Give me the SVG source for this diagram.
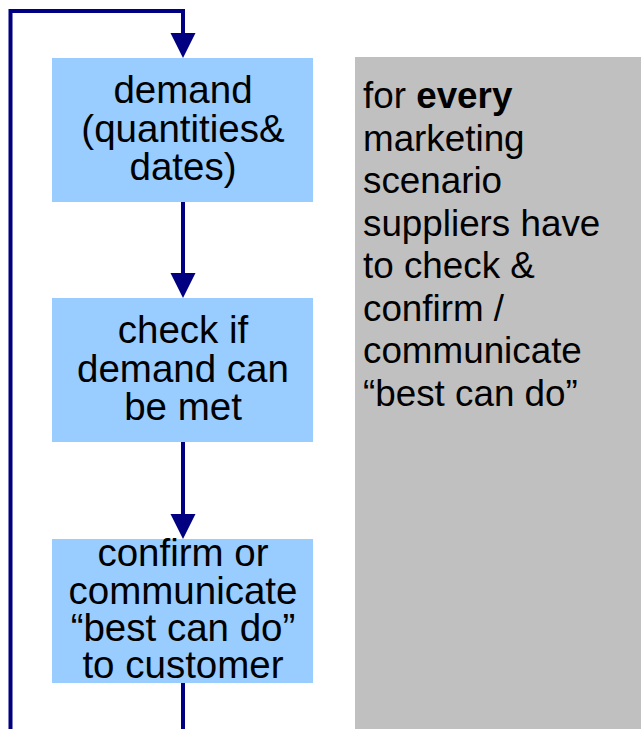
<svg xmlns="http://www.w3.org/2000/svg" width="641" height="729" viewBox="0 0 641 729">
<style>
.box{fill:#99ccff}
.bt{font-family:"Liberation Sans",Arial,sans-serif;font-size:38.5px;fill:#000;text-anchor:middle}
.gt{font-family:"Liberation Sans",Arial,sans-serif;font-size:36.8px;fill:#000}
.ln{stroke:#000080;stroke-width:4;fill:none}
.ah{fill:#000080}
</style>
<rect width="641" height="729" fill="#fff"/>
<g id="note">
<rect x="355" y="57" width="286" height="672" fill="#c0c0c0"/>
<text class="gt" x="363" y="108">for <tspan font-weight="bold">every</tspan></text>
<text class="gt" x="363" y="150.5">marketing</text>
<text class="gt" x="363" y="193">scenario</text>
<text class="gt" x="363" y="235.5">suppliers have</text>
<text class="gt" x="363" y="278">to check &amp;</text>
<text class="gt" x="363" y="320.5">confirm /</text>
<text class="gt" x="363" y="363">communicate</text>
<text class="gt" x="363" y="405.5">“best can do”</text>
</g>
<g id="connectors">
<polyline class="ln" points="183,683 183,729"/>
<polyline class="ln" points="10.5,729 10.5,11 183,11 183,35"/>
<polygon class="ah" points="170.5,33 195.5,33 183,58"/>
<line class="ln" x1="183" y1="202" x2="183" y2="275"/>
<polygon class="ah" points="170.5,273 195.5,273 183,298"/>
<line class="ln" x1="183" y1="442" x2="183" y2="516"/>
<polygon class="ah" points="170.5,514 195.5,514 183,539"/>
</g>
<g id="demand">
<rect class="box" x="52" y="58" width="261" height="144"/>
<text class="bt" x="183" y="103">demand</text>
<text class="bt" x="183" y="142">(quantities&amp;</text>
<text class="bt" x="183" y="180">dates)</text>
</g>
<g id="check">
<rect class="box" x="52" y="298" width="261" height="144"/>
<text class="bt" x="183" y="343">check if</text>
<text class="bt" x="183" y="382">demand can</text>
<text class="bt" x="183" y="420">be met</text>
</g>
<g id="confirm">
<rect class="box" x="52" y="539" width="261" height="144"/>
<text class="bt" x="183" y="566">confirm or</text>
<text class="bt" x="183" y="603.5">communicate</text>
<text class="bt" x="183" y="641">“best can do”</text>
<text class="bt" x="183" y="678">to customer</text>
</g>
</svg>
